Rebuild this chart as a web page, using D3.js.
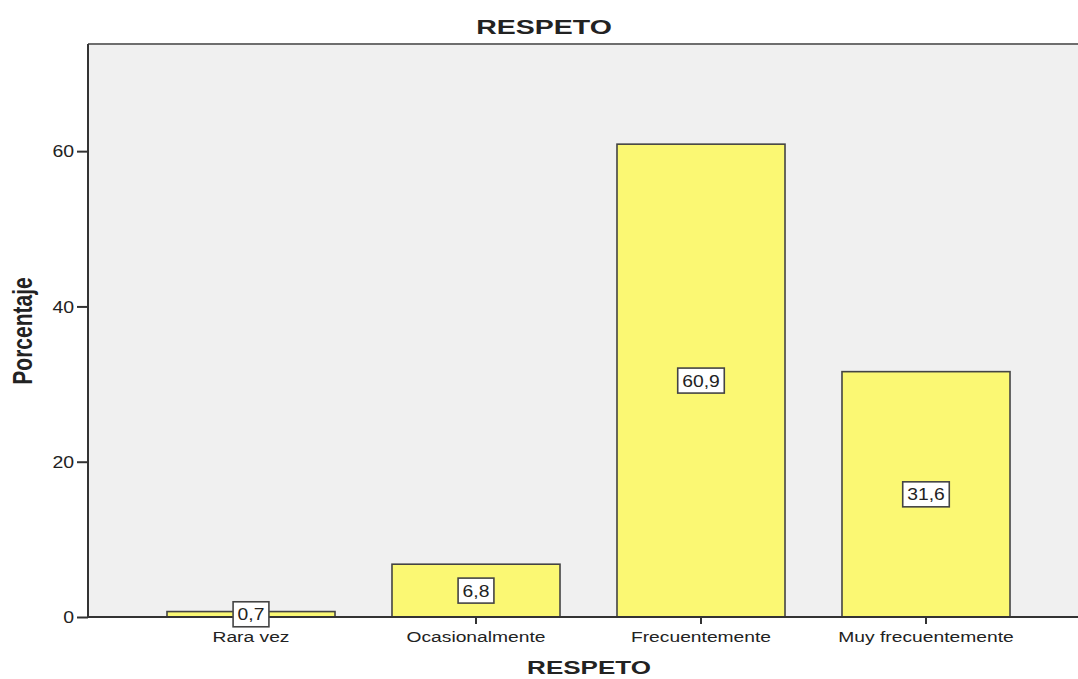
<!DOCTYPE html>
<html>
<head>
<meta charset="utf-8">
<script src="https://cdn.jsdelivr.net/npm/d3@7"></script>
<style>
  html, body { margin: 0; padding: 0; background: #fff; }
  svg { display: block; }
  text { font-family: "Liberation Sans", Arial, sans-serif; fill: #222; }
</style>
</head>
<body>
<svg id="chart" width="1078" height="679"></svg>
<script>
// ---- data ----
const categories = ["Rara vez", "Ocasionalmente", "Frecuentemente", "Muy frecuentemente"];
const values = [0.7, 6.8, 60.9, 31.6];
const valueLabels = ["0,7", "6,8", "60,9", "31,6"];
const yTicks = [0, 20, 40, 60];
const chartTitle = "RESPETO";
const xTitle = "RESPETO";
const yTitle = "Porcentaje";

// ---- layout ----
const W = 1078, H = 679;
const plot = { left: 88, top: 44, right: 1078, bottom: 617 };
const stretch = 1.28; // horizontal stretch of the reference text

const svg = d3.select("#chart");

const y = d3.scaleLinear().domain([0, 73.8]).range([plot.bottom, plot.top]);
const x = d3.scaleBand().domain(categories)
  .range([138.5, 1038.5]).paddingInner(0.2533).paddingOuter(0.12665);

// background
svg.append("rect")
  .attr("x", plot.left).attr("y", plot.top)
  .attr("width", plot.right - plot.left).attr("height", plot.bottom - plot.top)
  .attr("fill", "#f0f0f0");

// top frame line
svg.append("line")
  .attr("x1", plot.left).attr("x2", plot.right)
  .attr("y1", plot.top).attr("y2", plot.top)
  .attr("stroke", "#6e6e6e").attr("stroke-width", 2);

// bars
svg.append("g").selectAll("rect").data(values).join("rect")
  .attr("x", (d, i) => x(categories[i]))
  .attr("y", d => y(d))
  .attr("width", x.bandwidth())
  .attr("height", d => y(0) - y(d))
  .attr("fill", "#fbf873")
  .attr("stroke", "#444")
  .attr("stroke-width", 1.6);

// axes
const yAxis = svg.append("g")
  .attr("transform", `translate(${plot.left},0)`)
  .call(d3.axisLeft(y).tickValues(yTicks).tickSize(11).tickPadding(3).tickFormat(d3.format("d")));
yAxis.select(".domain").attr("d", `M0,${plot.top}V${plot.bottom}`).attr("stroke", "#333").attr("stroke-width", 2);
yAxis.selectAll(".tick line").attr("stroke", "#333").attr("stroke-width", 2);
yAxis.selectAll(".tick text")
  .attr("font-size", 16).attr("fill", "#333")
  .each(function() {
    const t = d3.select(this);
    const xx = +t.attr("x");
    t.attr("x", null).attr("dy", "0.36em")
     .attr("transform", `translate(${xx},0) scale(${stretch * 0.95},1)`);
  });

const xAxis = svg.append("g")
  .attr("transform", `translate(0,${plot.bottom})`)
  .call(d3.axisBottom(x).tickSize(7).tickPadding(0));
xAxis.select(".domain").attr("d", `M${plot.left},0H${plot.right}`).attr("stroke", "#333").attr("stroke-width", 2);
xAxis.selectAll(".tick line").attr("stroke", "#333").attr("stroke-width", 2);
xAxis.selectAll(".tick text")
  .attr("font-size", 15.5).attr("fill", "#333")
  .attr("y", null).attr("dy", null)
  .attr("transform", `translate(0,25) scale(${stretch * 0.97},1)`);

// value labels with boxes
const lbl = svg.append("g").selectAll("g").data(values).join("g")
  .attr("transform", (d, i) => `translate(${x(categories[i]) + x.bandwidth() / 2},${y(d / 2)})`);
lbl.each(function(d, i) {
  const g = d3.select(this);
  const rect = g.append("rect");
  const t = g.append("text")
    .attr("text-anchor", "middle")
    .attr("dy", "0.36em")
    .attr("font-size", 16.5)
    .attr("fill", "#222")
    .attr("transform", `scale(1.17,1)`)
    .text(valueLabels[i]);
  const bb = t.node().getBBox();
  const w = bb.width * 1.17 + 9;
  rect.attr("x", -w / 2).attr("y", -12.5).attr("width", w).attr("height", 25)
    .attr("fill", "#fff").attr("stroke", "#444").attr("stroke-width", 1.6);
});

// titles
svg.append("text")
  .attr("text-anchor", "middle")
  .attr("font-size", 21).attr("font-weight", "bold").attr("fill", "#111")
  .attr("transform", `translate(544,34) scale(${stretch * 1.06},1)`)
  .text(chartTitle);

svg.append("text")
  .attr("text-anchor", "middle")
  .attr("font-size", 19).attr("font-weight", "bold").attr("fill", "#111")
  .attr("transform", `translate(589,674) scale(${stretch * 1.07},1)`)
  .text(xTitle);

svg.append("text")
  .attr("text-anchor", "middle")
  .attr("font-size", 21).attr("font-weight", "bold").attr("fill", "#111")
  .attr("transform", `translate(32,331) scale(${stretch},1) rotate(-90)`)
  .text(yTitle);
</script>
</body>
</html>
